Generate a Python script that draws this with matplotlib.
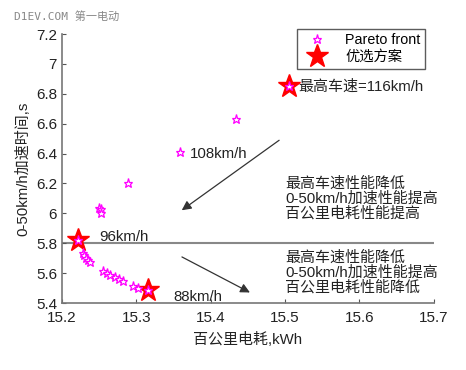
import numpy as np
import matplotlib.pyplot as plt

plt.rcParams['font.family'] = ['Liberation Sans', 'Noto Sans CJK SC', 'DejaVu Sans']

# pareto front points (energy use kWh/100km, 0-50 km/h time s)
pareto_x = [15.4345, 15.359, 15.289, 15.250, 15.252, 15.253,
            15.2278, 15.2295, 15.232, 15.235, 15.2376,
            15.2546, 15.260, 15.265, 15.271, 15.277, 15.282,
            15.296, 15.302, 15.505, 15.222, 15.315]
pareto_y = [6.63, 6.413, 6.205, 6.037, 6.026, 6.003,
            5.735, 5.719, 5.701, 5.685, 5.672,
            5.612, 5.601, 5.589, 5.574, 5.56, 5.549,
            5.515, 5.50, 6.85, 5.82, 5.49]

# chosen solutions
best_x = [15.222, 15.315, 15.505]
best_y = [5.82, 5.49, 6.85]

xticks = [15.2, 15.3, 15.4, 15.5, 15.6, 15.7]
yticks = [5.4, 5.6, 5.8, 6.0, 6.2, 6.4, 6.6, 6.8, 7.0, 7.2]

fig = plt.figure(figsize=(4.66, 3.70), dpi=100)
ax = fig.add_axes([0.133, 0.181, 0.798, 0.727])

ax.plot(pareto_x, pareto_y, linestyle='none', marker='*', markersize=6.5,
        markerfacecolor='white', markeredgecolor='magenta', markeredgewidth=0.9,
        label='Pareto front', zorder=3)
ax.plot(best_x, best_y, linestyle='none', marker='*', markersize=17,
        color='red', label='优选方案', zorder=2)

ax.plot([15.2, 15.7], [5.8, 5.8], color='#888888', lw=1.5, zorder=1)

ax.annotate('', xy=(15.358, 6.01), xytext=(15.495, 6.50),
            arrowprops=dict(arrowstyle='-|>', color='#333333', lw=0.9,
                            mutation_scale=14))
ax.annotate('', xy=(15.456, 5.462), xytext=(15.358, 5.717),
            arrowprops=dict(arrowstyle='-|>', color='#333333', lw=0.9,
                            mutation_scale=14))

fs = 10.8
ax.text(15.372, 6.40, '108km/h', fontsize=fs, va='center', color='#222222')
ax.text(15.250, 5.84, '96km/h', fontsize=fs, va='center', color='#222222')
ax.text(15.35, 5.44, '88km/h', fontsize=fs, va='center', color='#222222')
ax.text(15.518, 6.85, '最高车速=116km/h', fontsize=fs, va='center', color='#222222')

ax.text(15.5, 6.245, '最高车速性能降低\n0-50km/h加速性能提高\n百公里电耗性能提高',
        fontsize=fs, va='top', ha='left', color='#222222', linespacing=1.02)
ax.text(15.5, 5.75, '最高车速性能降低\n0-50km/h加速性能提高\n百公里电耗性能降低',
        fontsize=fs, va='top', ha='left', color='#222222', linespacing=1.02)

ax.set_xlim(15.2, 15.7)
ax.set_ylim(5.4, 7.2)
ax.set_xticks(xticks)
ax.set_xticklabels([f'{v:g}' for v in xticks])
ax.set_yticks(yticks)
ax.set_yticklabels([f'{v:g}' for v in yticks])
ax.tick_params(direction='in', length=3, labelsize=11, colors='#555555',
               labelcolor='#222222')
ax.tick_params(axis='x', pad=6)
for s in ['top', 'right']:
    ax.spines[s].set_visible(False)
for s in ['left', 'bottom']:
    ax.spines[s].set_color('#777777')
    ax.spines[s].set_linewidth(1.2)

ax.set_xlabel('百公里电耗,kWh', fontsize=10.8, color='#222222', labelpad=5)
ax.set_ylabel('0-50km/h加速时间,s', fontsize=10.8, color='#222222', labelpad=4)

leg = ax.legend(loc='upper right', bbox_to_anchor=(0.995, 1.045), fontsize=10.3,
                frameon=True, fancybox=False, edgecolor='#333333',
                borderpad=0.3, labelspacing=0.2, handletextpad=0.9,
                handlelength=2.2)
leg.get_frame().set_linewidth(1.0)

fig.text(0.03, 0.955, 'D1EV.COM 第一电动', fontsize=8, color='#888888',
         family=['DejaVu Sans Mono', 'Noto Sans CJK SC'], va='center')

fig.savefig('out.png', dpi=100)
